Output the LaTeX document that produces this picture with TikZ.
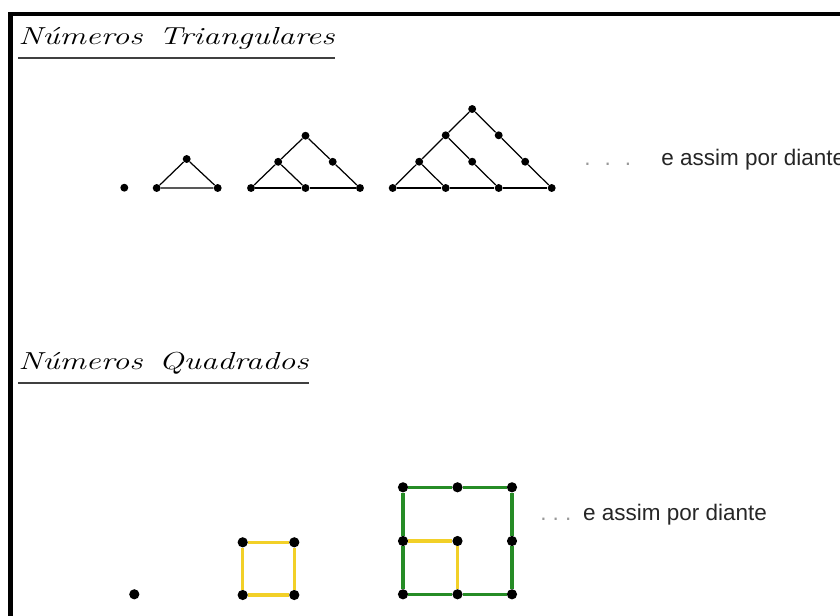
\documentclass[tikz,border=0pt]{standalone}
\usepackage{fontspec}
\newfontfamily\arialfont{Liberation Sans}
\definecolor{amarelo}{RGB}{242,208,40}
\definecolor{verde}{RGB}{38,140,38}

\begin{document}
\begin{tikzpicture}[x=0.02cm, y=-0.02cm,
  pto/.style={circle, fill=black, inner sep=0pt, minimum size=4.5pt},
  ptoq/.style={circle, fill=black, inner sep=0pt, minimum size=5.8pt},
  titulo/.style={inner sep=0pt, anchor=base west, font=\fontsize{14}{17}\selectfont\itshape},
  nota/.style={inner sep=0pt, anchor=base west, font=\fontsize{12.8}{15}\selectfont\arialfont, text=black!85},
  lado/.style={line width=0.7pt},
  ladoq/.style={line width=1.9pt}]
\useasboundingbox (0,0) rectangle (840,616);
\draw[line width=2.3pt] (10.5,616) -- (10.5,13.7) -- (840,13.7);

% titulos
\node[titulo] (tri) at (18,44.3) {\scalebox{1.34}[1]{Números\hspace{0.5em}Triangulares}};
\draw[line width=0.85pt, black!75] ([yshift=-7.8pt]tri.base west) -- ([yshift=-7.8pt]tri.base east);
\node[titulo] (quad) at (18,369.3) {\scalebox{1.34}[1]{Números\hspace{0.5em}Quadrados}};
\draw[line width=0.85pt, black!75] ([yshift=-7.8pt]quad.base west) -- ([yshift=-7.8pt]quad.base east);

% triangulares
\node[pto] (t1) at (124.3,187.7) {};

\node[pto] (a1) at (156.7,188) {};
\node[pto] (a2) at (186.7,159) {};
\node[pto] (a3) at (217.7,188) {};
\draw[lado] (a1) -- (a2) -- (a3) -- (a1);

\node[pto] (b1) at (251,188) {};
\node[pto] (b2) at (305.5,188) {};
\node[pto] (b3) at (360,188) {};
\node[pto] (b4) at (278.2,161.8) {};
\node[pto] (b5) at (332.7,161.8) {};
\node[pto] (b6) at (305.5,135.7) {};
\draw[lado] (b1) -- (b2) -- (b3);
\draw[lado] (b1) -- (b4) -- (b6) -- (b5) -- (b3);
\draw[lado] (b4) -- (b2);

\node[pto] (c1) at (392.7,188) {};
\node[pto] (c2) at (445.7,188) {};
\node[pto] (c3) at (498.7,188) {};
\node[pto] (c4) at (551.7,188) {};
\node[pto] (c5) at (419.2,161.7) {};
\node[pto] (c6) at (472.2,161.7) {};
\node[pto] (c7) at (525.2,161.7) {};
\node[pto] (c8) at (445.7,135.3) {};
\node[pto] (c9) at (498.7,135.3) {};
\node[pto] (c10) at (472.2,109) {};
\draw[lado] (c1) -- (c2) -- (c3) -- (c4);
\draw[lado] (c1) -- (c5) -- (c8) -- (c10) -- (c9) -- (c7) -- (c4);
\draw[lado] (c5) -- (c2);
\draw[lado] (c8) -- (c6) -- (c3);

\node[nota, text=black!40] (pont1) at (584,165) {.\hspace{8pt}.\hspace{8pt}.};
\node[nota] (txt1) at (661,165) {e assim por diante};

% quadrados
\node[ptoq] (q1) at (134.3,594.3) {};

\node[ptoq] (d1) at (242.7,542.3) {};
\node[ptoq] (d2) at (294.3,542.3) {};
\node[ptoq] (d3) at (242.7,595) {};
\node[ptoq] (d4) at (294.3,595) {};
\draw[ladoq, amarelo] (d1) -- (d2) -- (d4) -- (d3) -- (d1);

\node[ptoq] (e1) at (403,487.3) {};
\node[ptoq] (e2) at (457.5,487.3) {};
\node[ptoq] (e3) at (512,487.3) {};
\node[ptoq] (e4) at (403,541) {};
\node[ptoq] (e5) at (457.5,541) {};
\node[ptoq] (e6) at (512,541) {};
\node[ptoq] (e7) at (403,594.3) {};
\node[ptoq] (e8) at (457.5,594.3) {};
\node[ptoq] (e9) at (512,594.3) {};
\draw[ladoq, verde] (e1) -- (e2) -- (e3) -- (e6) -- (e9) -- (e8) -- (e7) -- (e4) -- (e1);
\draw[ladoq, amarelo] (e4) -- (e5) -- (e8);

\node[nota, text=black!40] (pont2) at (540,520) {.\hspace{3.5pt}.\hspace{3.5pt}.};
\node[nota] (txt2) at (582.7,520) {e assim por diante};
\end{tikzpicture}
\end{document}
